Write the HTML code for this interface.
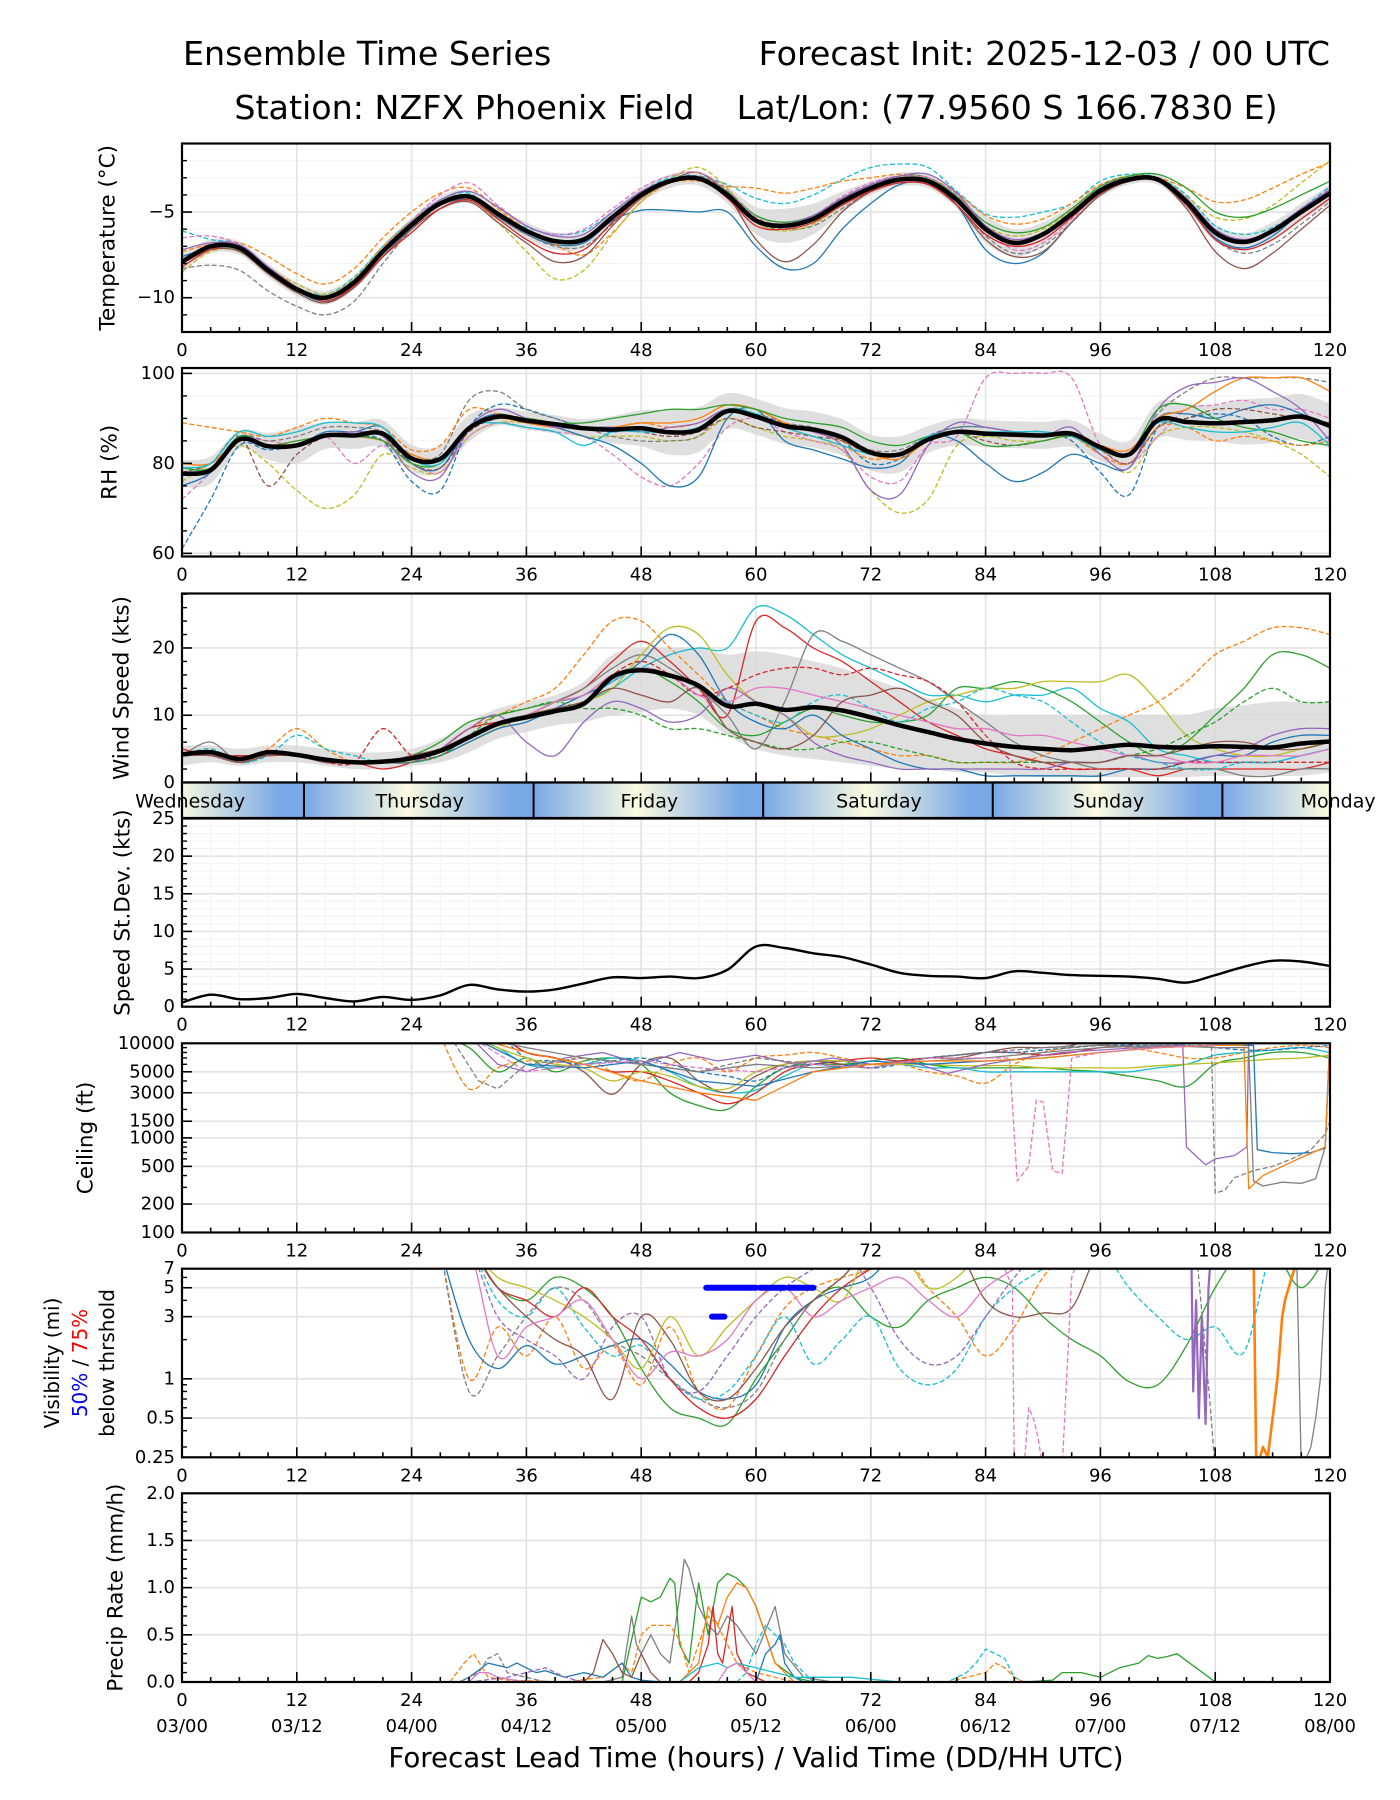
<!DOCTYPE html>
<html><head><meta charset="utf-8">
<style>
html,body{margin:0;padding:0;background:#fff;}
svg{display:block;font-family:"DejaVu Sans","Liberation Sans",sans-serif;}
</style></head>
<body>
<svg id="fig" width="1400" height="1800" viewBox="0 0 1400 1800" xmlns="http://www.w3.org/2000/svg">
<rect x="0" y="0" width="1400" height="1800" fill="#fff"/>
<defs>
<linearGradient id="dayGrad" x1="0" y1="0" x2="1" y2="0">
<stop offset="0" stop-color="#79a8e6"/>
<stop offset="0.45" stop-color="#fbfbe0"/>
<stop offset="0.9" stop-color="#79a8e6"/>
<stop offset="1" stop-color="#79a8e6"/>
</linearGradient>
</defs>
<text x="183" y="65" font-size="33.3" fill="#000">Ensemble Time Series</text>
<text x="1330" y="65" font-size="33.3" text-anchor="end" fill="#000">Forecast Init: 2025-12-03 / 00 UTC</text>
<text x="756" y="119" font-size="33.3" text-anchor="middle" fill="#000" xml:space="preserve">Station: NZFX Phoenix Field    Lat/Lon: (77.9560 S 166.7830 E)</text>
<text x="756" y="1767" font-size="27.7" text-anchor="middle">Forecast Lead Time (hours) / Valid Time (DD/HH UTC)</text>
<g font-size="20" text-anchor="middle">
<text transform="translate(52,1363) rotate(-90)" dominant-baseline="central">Visibility (mi)</text>
<text transform="translate(80,1363) rotate(-90)" dominant-baseline="central"><tspan fill="#0000ff">50%</tspan> / <tspan fill="#ff0000">75%</tspan></text>
<text transform="translate(107,1363) rotate(-90)" dominant-baseline="central">below thrshold</text>
</g>
</svg>
<script>
// ---------------- DATA ----------------
const hours3 = [0,3,6,9,12,15,18,21,24,27,30,33,36,39,42,45,48,51,54,57,60,63,66,69,72,75,78,81,84,87,90,93,96,99,102,105,108,111,114,117,120];
const tempMean = [-7.9,-7.0,-7.1,-8.4,-9.5,-10.0,-9.1,-7.3,-5.75,-4.5,-4.1,-5.1,-6.1,-6.7,-6.6,-5.3,-4.0,-3.2,-3.05,-4.0,-5.5,-5.8,-5.4,-4.4,-3.6,-3.1,-3.2,-4.3,-6.0,-6.8,-6.3,-5.1,-3.75,-3.1,-3.1,-4.4,-6.2,-6.75,-6.1,-5.0,-3.9];
const tempSpread = [0.5,0.4,0.4,0.4,0.4,0.4,0.4,0.4,0.4,0.4,0.4,0.4,0.5,0.5,0.5,0.4,0.4,0.4,0.4,0.5,0.8,1.0,0.9,0.6,0.4,0.4,0.4,0.5,0.8,0.8,0.7,0.5,0.4,0.3,0.3,0.4,0.5,0.5,0.5,0.5,0.5];
const tempBlue = [-7.6,-7.1,-7.2,-8.5,-9.6,-10.2,-9.4,-7.6,-5.9,-4.6,-4.3,-5.3,-6.3,-6.9,-6.8,-5.5,-4.9,-4.9,-5.0,-5.0,-7.0,-8.3,-8.0,-6.0,-4.5,-3.4,-3.3,-4.6,-7.2,-8.0,-7.4,-5.6,-4.0,-3.2,-3.1,-4.6,-6.5,-7.1,-6.4,-5.0,-3.9];
const tempCyanDash = [-6.1,-6.6,-6.9,-8.2,-9.4,-9.8,-8.8,-7.0,-5.5,-4.3,-3.9,-5.2,-5.9,-6.3,-6.1,-5.0,-3.8,-3.0,-2.9,-3.4,-4.2,-4.5,-4.0,-3.1,-2.4,-2.2,-2.4,-3.8,-5.1,-5.3,-5.0,-4.5,-3.2,-2.8,-3.0,-4.0,-5.8,-6.3,-5.9,-4.8,-3.5];
const tempOrangeDash = [-7.3,-6.9,-6.8,-7.6,-8.6,-9.2,-8.3,-6.5,-5.0,-3.9,-3.6,-4.8,-6.0,-6.9,-7.5,-6.2,-4.4,-3.3,-3.2,-3.5,-3.6,-3.9,-3.6,-3.2,-3.0,-2.8,-3.0,-3.9,-5.2,-5.7,-5.4,-4.5,-3.4,-2.9,-3.0,-3.6,-4.4,-4.3,-3.6,-2.8,-2.1];
const tempGrayDash = [-8.3,-8.1,-8.4,-9.6,-10.5,-11.0,-10.2,-8.0,-6.0,-4.6,-4.2,-5.3,-6.3,-7.0,-7.0,-5.7,-4.2,-3.3,-2.9,-3.8,-5.6,-6.0,-5.8,-4.8,-3.8,-3.3,-3.4,-4.6,-6.4,-7.4,-7.0,-5.6,-4.0,-3.2,-3.1,-4.6,-6.6,-7.4,-6.9,-5.7,-4.4];
const tempOliveDash = [-8.5,-7.3,-7.2,-8.3,-9.2,-9.8,-8.9,-7.0,-5.5,-4.4,-4.2,-5.6,-7.3,-8.9,-8.4,-6.3,-4.4,-3.1,-2.4,-3.6,-5.6,-6.1,-5.7,-4.6,-3.6,-3.1,-3.1,-4.2,-5.8,-6.4,-6.0,-4.9,-3.6,-3.0,-3.0,-4.1,-5.3,-5.4,-4.6,-3.3,-2.0];
const tempBrown = [-8.0,-7.2,-7.3,-8.6,-9.7,-10.3,-9.4,-7.6,-6.0,-4.8,-4.4,-5.6,-6.8,-7.9,-7.6,-5.8,-4.2,-3.2,-2.7,-4.0,-6.6,-7.9,-6.9,-5.0,-3.8,-3.2,-3.3,-4.6,-6.6,-7.6,-7.3,-5.6,-4.0,-3.2,-3.2,-4.8,-7.3,-8.3,-7.4,-6.0,-4.6];
const tempGreen = [-7.8,-7.0,-7.1,-8.3,-9.5,-10.1,-9.2,-7.2,-5.7,-4.4,-4.0,-5.0,-6.0,-6.6,-6.5,-5.2,-3.9,-3.1,-3.0,-3.8,-5.2,-5.6,-5.2,-4.2,-3.4,-2.9,-3.0,-4.1,-5.6,-6.2,-5.9,-4.8,-3.5,-2.9,-2.8,-3.6,-5.0,-5.3,-4.8,-4.0,-3.2];
const tempPinkDash = [-6.5,-6.4,-6.9,-8.2,-9.5,-10.0,-9.0,-7.1,-5.5,-4.0,-3.3,-4.6,-5.8,-6.3,-6.0,-4.8,-3.6,-2.9,-2.7,-3.7,-5.3,-5.7,-5.2,-4.1,-3.3,-2.9,-3.0,-4.0,-5.9,-7.2,-6.8,-5.4,-3.8,-3.1,-3.1,-4.3,-6.1,-6.8,-6.2,-4.9,-3.6];
const tempRed = [-8.2,-7.2,-7.0,-8.2,-9.4,-10.2,-9.3,-7.6,-6.2,-4.8,-4.3,-5.4,-6.6,-7.4,-7.2,-5.6,-4.1,-3.2,-3.0,-4.2,-5.8,-6.0,-5.6,-4.6,-3.8,-3.3,-3.4,-4.6,-6.3,-7.0,-6.6,-5.3,-3.9,-3.2,-3.2,-4.6,-6.6,-7.2,-6.6,-5.4,-4.2];
const tempPurple = [-7.2,-6.8,-6.9,-8.2,-9.4,-9.9,-9.0,-7.2,-5.6,-4.3,-3.8,-4.7,-5.8,-6.4,-6.3,-5.0,-3.8,-3.1,-3.0,-3.9,-5.4,-5.7,-5.2,-4.2,-3.4,-2.9,-2.8,-3.9,-5.8,-6.6,-6.2,-5.0,-3.6,-3.0,-3.0,-4.2,-6.0,-6.6,-6.0,-4.8,-3.7];

const rhMean = [77.7,78.5,85.3,83.8,84,86.2,86.2,86.6,81.1,81,87.8,90.4,89.5,88.7,87.8,87.5,87.8,86.9,87.5,91.6,90.4,88.3,87.5,85.8,82.4,82,85.3,87,86.6,86.4,86.2,86.6,83.6,82,89.6,89.2,88.9,89.2,89.6,90.4,88.3];
const rhSpread = [3,3,2,3,4,3,3,3,3,3,3,2,2,2,2,3,4,5,5,4,4,4,4,4,4,4,3,3,3,3,3,3,3,3,4,4,4,5,5,5,5];
const rhOliveDash = [76,80,84,80,74,70,73,82,79,78,86,89,89,88,86,86,86,85,86,90,88,86,85,83,74,69,72,84,86,85,85,86,82,78,86,88,88,87,85,82,77];
const rhPinkDash = [72,78,85,85,84,86,80,84,80,78,86,89,88,87,86,82,77,75,80,88,90,87,85,83,77,76,84,86,99,100,100,99,84,80,86,92,93,94,92,92,90];
const rhBlue = [75,78,86,84,84,87,87,88,80,79,88,91,89,88,86,84,80,75,77,90,92,85,83,81,79,80,86,85,80,76,78,82,80,79,90,91,90,92,93,91,88];
const rhBlueDash = [61,72,84,83,84,86,86,85,76,74,88,93,92,90,88,87,88,87,88,92,91,89,87,85,80,81,86,88,88,87,87,85,78,73,88,90,91,90,86,84,86];
const rhGrayDash = [78,79,86,85,86,88,88,87,82,82,94,96,92,90,88,86,85,85,86,92,91,89,88,86,83,83,86,88,88,87,87,86,83,82,91,96,99,99,99,99,98];
const rhOrange = [80,80,85,84,85,86,86,85,82,81,88,90,89,88,88,88,89,89,90,93,92,89,87,85,82,81,85,87,87,86,86,86,84,83,90,92,96,99,99,99,96];
const rhOrangeDash = [89,88,87,86,88,90,89,88,83,84,92,91,90,89,88,88,89,88,89,92,91,88,86,84,81,82,85,87,87,86,86,86,82,80,88,88,85,86,85,84,85];
const rhBrownDash = [78,80,86,75,82,86,87,86,80,79,87,90,90,89,88,88,87,86,87,90,88,87,86,85,82,82,86,87,85,84,85,86,83,80,88,90,92,92,91,90,89];
const rhPurple = [78,79,85,84,84,86,87,86,78,77,88,92,90,88,88,88,87,88,89,92,90,88,87,84,74,73,84,89,88,87,86,88,82,79,92,97,98,99,96,92,85];
const rhGreen = [79,79,86,84,85,86,86,85,80,80,88,90,90,89,89,90,91,92,92,93,92,90,89,88,85,84,86,87,84,84,85,86,83,82,92,93,90,88,87,85,84];
const rhCyan = [79,80,87,86,87,89,89,88,81,80,88,89,88,87,84,87,87,87,88,92,91,88,86,84,82,82,86,87,87,87,87,86,83,82,89,88,87,87,88,89,84];

const windMean = [4.2,4.5,3.5,4.5,4.1,3.4,3.0,3.1,3.6,4.7,6.7,8.7,9.7,10.6,11.7,15.7,16.7,15.9,14.4,11.4,11.7,10.8,11.2,10.7,9.7,8.5,7.5,6.5,5.8,5.3,5.0,4.8,5.2,5.6,5.3,5.2,5.4,5.3,5.2,5.8,6.1];
const windBandHigh = [5.5,5.5,5,5.5,5.5,5,4.5,4.5,5,6.5,9,11,12,13,15,19,20,20,20,19,19.5,19,18,17,15.5,14,12.5,11,10,10,10,10,10,10,10,10,11,11.5,12,12,12];
const windBandLow = [2.5,3,2.5,3,3,2.5,2,2,2.5,3,4.5,6.5,7.5,8.5,9,10,10.5,11,10,7,5,4,3.5,3,2.5,2,2,1.5,1.5,1,0.8,0.8,0.8,0.8,0.8,0.8,1,1,1,1,1.5];
const windOrangeDash = [4,5,3,5,8,5,3,3,4,5,8,10,12,14,19,24,24,20,16,12,10,8,7,6,5,4,4,3,3,3,4,6,8,10,12,15,19,21,23,23,22];
const windCyan = [4,4,3,4,4,3,3,3,4,5,7,9,10,11,12,14,17,19,20,20,26,25,22,19,17,15,13,13,12,13,13,14,11,9,5,4,3,3,3,4,5];
const windRed = [5,4,4,4,4,3,3,2,3,5,8,9,10,12,14,18,21,18,14,10,24,23,20,18,15,12,9,7,5,4,3,2,2,2,1,2,2,2,2,2,3];
const windGray = [4,6,3,4,4,3,3,3,4,5,7,9,10,12,14,17,19,17,14,10,5,12,22,21,19,17,15,12,9,6,4,3,2,2,2,2,2,1,1,2,2];
const windGreen = [4,4,3,4,4,3,3,3,4,6,9,10,11,12,13,16,17,15,12,8,7,9,11,10,9,9,10,14,14,15,14,12,9,6,4,6,10,14,19,19,17];
const windOlive = [4,4,3,4,4,3,3,3,3,4,6,8,10,11,12,14,19,23,22,16,12,10,7,7,8,10,12,13,14,14,15,15,15,16,12,7,5,4,4,5,6];
const windBlue = [4,4,3,4,4,3,3,3,3,4,6,8,9,11,13,15,18,22,19,12,9,8,10,7,5,3,2,2,1,1,1,1,1,2,2,3,4,4,6,7,7];
const windPurple = [4,4,3,4,4,3,3,3,3,5,8,10,6,4,9,12,11,9,10,14,12,10,6,4,3,2,2,2,2,2,2,3,3,4,3,3,4,5,7,8,8];
const windRedDash = [5,4,4,4,4,3,3,8,4,4,7,9,10,11,12,16,18,16,13,14,16,17,17,16,17,16,15,12,7,3,2,2,2,2,2,3,3,3,3,3,3];
const windCyanDash = [4,5,3,4,7,5,4,3,4,4,7,9,10,11,12,15,17,16,14,12,10,9,12,13,11,9,11,12,14,13,12,9,6,4,3,2,2,3,3,4,5];
const windGreenDash = [4,4,3,4,4,3,3,3,3,4,7,10,11,12,11,11,10,8,8,7,6,5,5,6,6,5,4,3,3,3,3,3,3,4,5,7,9,12,14,12,12];
const windPink = [4,4,3,4,4,3,3,3,4,5,7,9,10,12,13,16,17,16,13,12,14,14,13,12,11,10,9,8,8,7,7,6,5,4,4,3,3,4,4,4,5];
const windBrown = [4,4,3,4,4,3,3,3,4,5,7,9,10,11,12,14,13,12,14,8,6,5,7,12,13,14,12,10,6,4,3,3,3,4,4,5,6,6,5,5,6];

const stdDev = [0.55,1.6,1.0,1.15,1.7,1.15,0.7,1.3,0.9,1.5,2.9,2.3,2.0,2.3,3.1,3.9,3.8,4.0,3.8,4.9,8.0,7.8,7.1,6.6,5.6,4.5,4.1,4.0,3.8,4.7,4.5,4.2,4.1,4.0,3.7,3.2,4.2,5.3,6.1,6.0,5.4];

const dayNames = ["Wednesday","Thursday","Friday","Saturday","Sunday","Monday"];
const dayStarts = [-11.25,12.75,36.75,60.75,84.75,108.75];

const hoursLate = [27,30,33,36,39,42,45,48,51,54,57,60,63,66,69,72,75,78,81,84,87,90,93,96,99,102,105,108,111,114,117,120];
const ceilOrangeDash = [12000,3300,5500,6500,6200,7000,5000,4000,6000,7000,5000,7000,7500,8000,7000,6000,6000,5000,4500,3800,6000,8000,9000,9500,9000,8000,7000,7000,8000,9000,9500,9000];
const ceilGreen = [12000,9000,5000,7000,5000,6500,7000,6000,3000,2200,2000,3500,5500,6000,6000,6500,7000,6000,5500,5500,5500,5500,5200,5000,4500,4000,3500,6000,7000,8000,8000,7000];
const ceilCyan = [12000,12000,9000,6000,5500,6000,7000,6500,5000,3500,3000,3200,4500,6000,5500,6000,6000,5500,5500,5000,5000,5000,5000,5000,5000,5500,6000,7500,8000,8500,9000,8000];
const ceilBrown = [12000,12000,12000,8000,7000,5000,2900,6000,7000,4000,3000,4500,6000,6500,6000,5500,6500,7000,7000,8000,9000,9000,9500,12000,12000,12000,12000,12000,12000,12000,12000,12000];
const ceilRed = [12000,12000,12000,8000,7000,6000,5000,5000,4000,3000,2300,3000,5000,6000,6500,7000,6500,7000,7500,8000,8000,7500,8000,9000,9500,12000,12000,12000,12000,12000,12000,12000];
const ceilBlueDash = [12000,12000,12000,7000,6500,6000,6500,7000,6000,5000,4500,4000,5500,6000,6500,5500,6000,7000,7500,8000,8000,8500,9000,9500,9500,9500,9500,9000,8500,8500,9000,9500];
const ceilOlive = [12000,12000,9000,7000,6000,5500,4000,5000,4500,3500,3300,5000,6000,6500,6500,6000,6000,6000,5800,5800,5800,5500,5500,5500,5500,5800,6000,6200,6500,6800,7000,7500];
const ceilPurpleHours = [27,30,33,36,40,44,48,52,56,60,64,68,72,76,80,84,88,92,96,100,104,104.6,105,107,108,110,111.3,111.5];
const ceilPurple = [12000,12000,6000,5000,7000,8000,6000,8000,6500,7500,6000,7000,6000,6500,4800,6000,7000,8000,8500,9000,9500,9500,800,520,600,650,800,12000];
const ceilGrayDashHours = [28,31,33,36,42,48,54,60,66,72,78,84,90,96,102,106,107.6,108,109,110,112,114,116,118,119.5,120];
const ceilGrayDash = [12000,4000,3300,6000,7000,6000,5000,7000,6000,5500,7000,8000,9000,9500,9000,9500,9500,260,280,380,450,500,600,750,1100,1500];
const ceilGrayHours = [30,36,42,48,54,60,66,72,78,84,90,96,102,108,111.5,112,113,115,117,118.5,119.5,120];
const ceilGray = [12000,9000,7000,6000,5000,6000,5500,6000,6500,7000,8000,9000,9500,9000,9000,350,310,340,330,370,800,12000];
const ceilBlueHours = [30,36,42,48,54,60,66,72,78,84,90,96,102,108,112,112.4,114,116,118,119.5,120];
const ceilBlue = [12000,6000,5500,6500,4000,3500,5000,6500,6000,6500,7000,8000,9000,9500,9500,750,700,680,700,780,12000];
const ceilOrangeHours = [30,36,42,48,54,60,66,72,78,84,90,96,102,108,111,111.5,113,115,117,119.5,120];
const ceilOrange = [12000,8000,6000,4000,3000,2500,5000,6000,6500,6500,7000,8000,9000,9500,9500,290,400,500,620,800,12000];
const ceilPinkHours = [30,36,42,48,54,60,66,72,78,84,86.5,87.3,88.5,89.3,90,91,92,93,96,102,108,114,120];
const ceilPink = [12000,5000,6000,6500,5500,5000,6000,5500,7000,7000,7000,350,500,2500,2400,450,420,7000,8000,9000,9500,12000,12000];

const visOrangeDash = [10,1.0,2.5,1.5,3.0,1.2,1.8,0.9,2.5,0.8,0.6,1.5,3.5,5,6,7,10,5,3,1.5,2.5,6,10,10,10,10,10,10,10,10,10,10];
const visBlue = [10,2.0,1.2,1.8,1.3,1.5,1.8,2.0,1.3,0.8,0.7,0.9,2.5,4,5,6,10,10,10,10,10,10,10,10,10,10,10,10,10,10,10,10];
const visGreen = [10,10,5,4,6,5,3,1.2,0.6,0.5,0.45,1.0,2.0,4,5,3,2.5,4,5,6,5,3,2,1.5,0.95,0.9,1.8,5,10,10,5,10];
const visGrayDash = [10,0.8,1.5,3,5,4,2.0,1.5,1.0,0.7,0.6,0.8,2.0,4,6,10,10,10,10,10,10,10,10,10,10,10,10,10,10,10,10,10];
const visCyanDash = [10,10,4,3,5,2.5,1.5,1.8,1.0,0.7,0.8,1.5,3,1.3,2,3,1.2,0.9,1.2,3,5,7,10,10,5,3,2,2.5,1.6,10,10,10];
const visPurpleDash = [10,10,3,2,1.5,1.0,2.5,3,1.0,0.8,1.5,3,5,7,10,5,2,1.3,1.5,3,6,10,10,10,10,10,10,10,10,10,10,10];
const visRed = [10,10,5,4,3,5,3,2.0,1.0,0.6,0.5,0.7,1.5,3,5,7,10,10,10,10,10,10,10,10,10,10,10,10,10,10,10,10];
const visBrown = [10,10,5,3,2,1.5,0.7,3,2,0.8,0.7,1.2,2.5,4,6,10,10,10,10,4,3.0,3.2,3.5,10,10,10,10,10,10,10,10,10];
const visOlive = [10,10,6,5,4,3,2,1.2,3,1.5,2.5,4,6,5,4,10,10,5,6,10,10,10,10,10,10,10,10,10,10,10,10,10];
const visPink = [10,10,1.5,2.5,3,4,2,1.0,1.6,1.5,2,4,5,3,4,5,6,4,3,5,7,10,10,10,10,10,10,10,10,10,10,10];
const visPurpleHours = [104,105.5,105.7,106,106.3,106.6,107,107.3,107.6,108];
const visPurple = [10,10,0.8,4,0.5,3,0.45,5,10,10];
const visOrangeHours = [111,112,112.3,113,113.5,114,114.5,115,115.3,116,117];
const visOrange = [10,10,0.2,0.3,0.25,0.5,1,3,4,6,10];
const visGrayHours = [115,116.5,117,118,118.5,119,119.5,120];
const visGray = [10,10,0.2,0.3,0.5,1,5,10];
const visPinkHours = [86,86.8,87,88,88.5,89,89.5,90,91,92,93,94];
const visPinkSpike = [7,5,0.2,0.2,0.6,0.5,0.35,0.2,0.2,0.2,6,10];
const visGrayDashHours = [104,106,107.5,108,110];
const visGrayDashSpike = [10,10,0.6,0.2,0.2];
const thr50Start = [54.8,60.4,61.4,63.4];
const thr50End = [60.0,61.2,63.0,66.0];
const thr75Start = [55.4];
const thr75End = [56.7];

const prGrayHours = [44,46,47,47.5,48,49,50,51,52,52.5,53,53.5,54,55,56,57,58,60,62,63,65,68];
const prGray = [0,0.05,0.7,0.4,0.3,0.5,0.3,0.2,0.9,1.3,1.2,1.0,0.8,0.6,0.5,0.7,0.6,0.3,0.8,0.3,0.05,0];
const prGreenHours = [46,48,49,50,51,51.5,52,53,54,55,56,57,58,59,60,61,62,64,66];
const prGreen = [0,0.9,0.85,0.9,1.1,1.05,0.4,0.2,1.05,0.5,1.05,1.15,1.1,1.0,0.8,0.5,0.2,0.05,0];
const prGreenLateHours = [88,91,92,94,96,98,100,101,102,103,104,106,108];
const prGreenLate = [0,0.02,0.1,0.1,0.05,0.15,0.2,0.28,0.25,0.27,0.3,0.15,0];
const prOrangeHours = [52,54,55,56,57,58,59,60,61,62,63,64];
const prOrange = [0,0.2,0.8,0.6,0.9,1.05,1.0,0.8,0.5,0.2,0.1,0];
const prRedHours = [53,54,55,55.5,56,56.5,57,57.5,58,59,60,61];
const prRed = [0,0.1,0.4,0.8,0.3,0.2,0.5,0.8,0.3,0.1,0.05,0];
const prOrangeDashHours = [28,29.5,30.5,32,34,40,44,46,47,48,49,50,51,52,53,55,56,57,58,60,62,64];
const prOrangeDash = [0,0.2,0.3,0.05,0.02,0,0.05,0.2,0.1,0.5,0.6,0.6,0.6,0.45,0.1,0.7,0.6,0.4,0.2,0.1,0.05,0];
const prCyanDashHours = [58,59,60,61,62,63,64,66,80,82,83,84,85,86,87,88];
const prCyanDash = [0,0.1,0.4,0.6,0.5,0.4,0.2,0,0,0.1,0.2,0.35,0.3,0.25,0.05,0];
const prBlueHours = [29,30,32,34,35,36,37,38,40,42,44,46,47,48,50,52,60,61,62,62.5,63,64,65];
const prBlue = [0,0.05,0.2,0.15,0.2,0.15,0.1,0.12,0.05,0.1,0.05,0.2,0.05,0.02,0,0,0,0.3,0.4,0.5,0.2,0.05,0];
const prGrayDashHours = [29,31,32,33,34,36,38];
const prGrayDash = [0,0.1,0.25,0.3,0.1,0.05,0];
const prBrownHours = [42,43,44,45,46,47,48,49,50];
const prBrown = [0,0.1,0.45,0.3,0.1,0.05,0.3,0.1,0];
const prPurpleDashHours = [30,34,36,38,40,42];
const prPurpleDash = [0,0.05,0.1,0.15,0.05,0];
const prCyanHours = [52,54,56,57,58,60,62,64,66,70,72,75];
const prCyan = [0,0.15,0.2,0.15,0.2,0.15,0.1,0.05,0.05,0.05,0.03,0];
const prOrangeDash2Hours = [80,82,84,85,86,87,88];
const prOrangeDash2 = [0,0.05,0.1,0.2,0.15,0.05,0];
const prPinkHours = [30,31,32,33,36,56,57,58,59,60];
const prPink = [0,0.1,0.1,0.05,0,0,0.15,0.2,0.1,0];
const prBaseHours = [26,120];
const prBase = [0,0];

// ---------------- HELPERS ----------------
const NS = "http://www.w3.org/2000/svg";
const svg = document.getElementById('fig');
const L = 182, R = 1330;
const C = {blue:"#1f77b4",orange:"#ff7f0e",green:"#2ca02c",red:"#d62728",purple:"#9467bd",brown:"#8c564b",pink:"#e377c2",gray:"#7f7f7f",olive:"#bcbd22",cyan:"#17becf"};
function X(h){ return L + (R - L) * h / 120; }
function mk(tag, attrs, parent){
  const e = document.createElementNS(NS, tag);
  for (const k in attrs) e.setAttribute(k, attrs[k]);
  (parent || svg).appendChild(e);
  return e;
}
function yScale(top, bot, lo, hi, log){
  if (log) { const a = Math.log10(lo), b = Math.log10(hi); return v => bot - (Math.log10(Math.max(v,1e-6)) - a) / (b - a) * (bot - top); }
  return v => bot - (v - lo) / (hi - lo) * (bot - top);
}
function smoothPath(pts){
  let d = "M" + pts[0][0].toFixed(1) + "," + pts[0][1].toFixed(1);
  for (let i = 0; i < pts.length - 1; i++){
    const p0 = pts[Math.max(0,i-1)], p1 = pts[i], p2 = pts[i+1], p3 = pts[Math.min(pts.length-1,i+2)];
    const c1x = p1[0] + (p2[0]-p0[0])/6, c1y = p1[1] + (p2[1]-p0[1])/6;
    const c2x = p2[0] - (p3[0]-p1[0])/6, c2y = p2[1] - (p3[1]-p1[1])/6;
    d += "C" + c1x.toFixed(1) + "," + c1y.toFixed(1) + " " + c2x.toFixed(1) + "," + c2y.toFixed(1) + " " + p2[0].toFixed(1) + "," + p2[1].toFixed(1);
  }
  return d;
}
function linePath(pts){ return "M" + pts.map(p => p[0].toFixed(1) + "," + p[1].toFixed(1)).join("L"); }
let clipN = 0;
function makePanel(name, top, bot){
  const id = "clip" + (clipN++);
  const cp = mk('clipPath', {id:id});
  mk('rect', {x:L, y:top, width:R-L, height:bot-top}, cp);
  const g = mk('g', {});
  
  
  const plot = mk('g', {'clip-path':'url(#'+id+')'}, g);
  return {g:g, plot:plot, top:top, bot:bot};
}
function drawGridV(P, minor){
  for (let h = 0; h <= 120; h += 3){
    const major = h % 12 === 0;
    if (!major && !minor) continue;
    const ln = mk('line', {x1:X(h), x2:X(h), y1:P.top, y2:P.bot, stroke: major ? "#e2e2e2" : "#f3f3f3", 'stroke-width': major ? 1.6 : 1}, P.plot);
    
    
  }
}
function drawGridH(P, y, vals, color, w){
  vals.forEach(v => {
    const ln = mk('line', {x1:L, x2:R, y1:y(v), y2:y(v), stroke:color, 'stroke-width':w}, P.plot);
    
    
  });
}
function drawFrame(P, xlabels){
  const fr = mk('rect', {x:L, y:P.top, width:R-L, height:P.bot-P.top, fill:"none", stroke:"#000", 'stroke-width':2.2}, P.g);
  
  
  for (let h = 0; h <= 120; h += 3){
    const major = h % 12 === 0;
    const t = mk('line', {x1:X(h), x2:X(h), y1:P.bot, y2:P.bot - (major ? 10 : 5), stroke:"#000", 'stroke-width':1.6}, P.g);
    
    
    if (major && xlabels){
      const tx = mk('text', {x:X(h), y:P.bot + 24, 'font-size':18, 'text-anchor':'middle'}, P.g);
      tx.textContent = String(h);
      
      
    }
  }
}
function yTicks(P, y, major, labels, minor){
  major.forEach((v, i) => {
    const t = mk('line', {x1:L, x2:L+10, y1:y(v), y2:y(v), stroke:"#000", 'stroke-width':1.6}, P.g);
    
    
    const tx = mk('text', {x:L-7, y:y(v), 'font-size':18, 'text-anchor':'end', 'dominant-baseline':'central'}, P.g);
    tx.textContent = labels[i];
    
    
  });
  (minor || []).forEach(v => {
    const t = mk('line', {x1:L, x2:L+5, y1:y(v), y2:y(v), stroke:"#000", 'stroke-width':1.4}, P.g);
    
    
  });
}
function yLabel(P, x, text){
  const cy = (P.top + P.bot) / 2;
  const tx = mk('text', {transform:'translate('+x+','+cy+') rotate(-90)', 'font-size':21.5, 'text-anchor':'middle', 'dominant-baseline':'central'}, P.g);
  tx.textContent = text;
  
  
}
function series(P, y, hrs, vals, color, dashed, smooth, width, name){
  const pts = hrs.map((h, i) => [X(h), y(vals[i])]);
  const p = mk('path', {d: smooth ? smoothPath(pts) : linePath(pts), fill:"none", stroke:color, 'stroke-width':width || 1.3, 'stroke-linejoin':'round'}, P.plot);
  if (dashed) p.setAttribute('stroke-dasharray', '5,2.5');
  
  
  return p;
}
function band(P, y, hrs, lo, hi, name){
  const up = hrs.map((h, i) => [X(h), y(hi[i])]);
  const dn = hrs.map((h, i) => [X(h), y(lo[i])]).reverse();
  const dd = smoothPath(dn);
  let d = smoothPath(up) + "L" + dn[0][0].toFixed(1) + "," + dn[0][1].toFixed(1) + dd.slice(dd.indexOf("C")) + "Z";
  const p = mk('path', {d:d, fill:"#d9d9d9", 'fill-opacity':0.85, stroke:"none"}, P.plot);
  
  
}

// ---------------- TEMPERATURE ----------------
(function(){
  const P = makePanel('temperature-panel', 143.5, 332);
  const y = yScale(P.top, P.bot, -12, -1, false);
  drawGridH(P, y, [-12,-11,-9,-8,-7,-6,-4,-3,-2,-1], "#f3f3f3", 1);
  drawGridH(P, y, [-10,-5], "#e2e2e2", 1.6);
  drawGridV(P, false);
  band(P, y, hours3, tempMean.map((v,i)=>v-tempSpread[i]), tempMean.map((v,i)=>v+tempSpread[i]), 'temperature-spread-band');
  [[tempBlue,C.blue,0],[tempCyanDash,C.cyan,1],[tempOrangeDash,C.orange,1],[tempGrayDash,C.gray,1],[tempOliveDash,C.olive,1],[tempBrown,C.brown,0],[tempGreen,C.green,0],[tempPinkDash,C.pink,1],[tempRed,C.red,0],[tempPurple,C.purple,0]]
    .forEach(m => series(P, y, hours3, m[0], m[1], m[2], true, 1.3, 'temperature-member'));
  series(P, y, hours3, tempMean, "#000", false, true, 4.5, 'temperature-mean');
  drawFrame(P, true);
  yTicks(P, y, [-10,-5], ["\u221210","\u22125"], [-12,-11,-9,-8,-7,-6,-4,-3,-2,-1]);
  yLabel(P, 108, "Temperature (\u00b0C)");
})();

// ---------------- RH ----------------
(function(){
  const P = makePanel('rh-panel', 368, 556.5);
  const y = yScale(P.top, P.bot, 59.3, 101.2, false);
  drawGridH(P, y, [65,70,75,85,90,95], "#f3f3f3", 1);
  drawGridH(P, y, [60,80,100], "#e2e2e2", 1.6);
  drawGridV(P, false);
  band(P, y, hours3, rhMean.map((v,i)=>v-rhSpread[i]), rhMean.map((v,i)=>v+rhSpread[i]), 'rh-spread-band');
  [[rhOliveDash,C.olive,1],[rhPinkDash,C.pink,1],[rhBlue,C.blue,0],[rhBlueDash,C.blue,1],[rhGrayDash,C.gray,1],[rhOrange,C.orange,0],[rhOrangeDash,C.orange,1],[rhBrownDash,C.brown,1],[rhPurple,C.purple,0],[rhGreen,C.green,0],[rhCyan,C.cyan,0]]
    .forEach(m => series(P, y, hours3, m[0], m[1], m[2], true, 1.3, 'rh-member'));
  series(P, y, hours3, rhMean, "#000", false, true, 4.5, 'rh-mean');
  drawFrame(P, true);
  yTicks(P, y, [60,80,100], ["60","80","100"], [65,70,75,85,90,95]);
  yLabel(P, 110, "RH (%)");
})();

// ---------------- WIND ----------------
(function(){
  const P = makePanel('wind-panel', 593.5, 782.5);
  const y = yScale(P.top, P.bot, 0, 28.1, false);
  drawGridH(P, y, [10,20], "#e2e2e2", 1.6);
  drawGridV(P, false);
  band(P, y, hours3, windBandLow, windBandHigh, 'wind-spread-band');
  [[windOrangeDash,C.orange,1],[windCyan,C.cyan,0],[windRed,C.red,0],[windGray,C.gray,0],[windGreen,C.green,0],[windOlive,C.olive,0],[windBlue,C.blue,0],[windPurple,C.purple,0],[windRedDash,C.red,1],[windCyanDash,C.cyan,1],[windGreenDash,C.green,1],[windPink,C.pink,0],[windBrown,C.brown,0]]
    .forEach(m => series(P, y, hours3, m[0], m[1], m[2], true, 1.3, 'wind-member'));
  series(P, y, hours3, windMean, "#000", false, true, 4.5, 'wind-mean');
  drawFrame(P, false);
  yTicks(P, y, [0,10,20], ["0","10","20"], [2,4,6,8,12,14,16,18,22,24,26,28]);
  yLabel(P, 122, "Wind Speed (kts)");
})();

// ---------------- DAY STRIP ----------------
(function(){
  const top = 782.5, bot = 818;
  const cp = mk('clipPath', {id:'clipDay'});
  mk('rect', {x:L, y:top, width:R-L, height:bot-top}, cp);
  const g = mk('g', {});
  
  
  const inner = mk('g', {'clip-path':'url(#clipDay)'}, g);
  dayStarts.forEach((s, i) => {
    const r = mk('rect', {x:X(s), y:top, width:X(s+24)-X(s), height:bot-top, fill:'url(#dayGrad)'}, inner);
    
    
    if (s > 0){
      const ln = mk('line', {x1:X(s), x2:X(s), y1:top, y2:bot, stroke:'#000', 'stroke-width':2}, inner);
      
      
    }
  });
  mk('rect', {x:L, y:top, width:R-L, height:bot-top, fill:'none', stroke:'#000', 'stroke-width':2.2}, g);
  dayStarts.forEach((s, i) => {
    const tx = mk('text', {x:X(s+12.1), y:(top+bot)/2+1, 'font-size':19, 'text-anchor':'middle', 'dominant-baseline':'central'}, g);
    tx.textContent = dayNames[i];
    
    
  });
})();

// ---------------- STD DEV ----------------
(function(){
  const P = makePanel('speed-stddev-panel', 818.5, 1006.7);
  const y = yScale(P.top, P.bot, 0, 25, false);
  const minors = [];
  for (let v = 1; v < 25; v++) if (v % 5) minors.push(v);
  drawGridH(P, y, minors, "#f3f3f3", 1);
  drawGridH(P, y, [5,10,15,20], "#e2e2e2", 1.6);
  drawGridV(P, true);
  series(P, y, hours3, stdDev, "#000", false, true, 2.4, 'speed-stddev-line');
  drawFrame(P, true);
  yTicks(P, y, [0,5,10,15,20,25], ["0","5","10","15","20","25"], minors);
  yLabel(P, 123, "Speed St.Dev. (kts)");
})();

// ---------------- CEILING ----------------
(function(){
  const P = makePanel('ceiling-panel', 1043.3, 1232.5);
  const y = yScale(P.top, P.bot, 100, 10000, true);
  drawGridH(P, y, [200,500,1000,1500,3000,5000], "#e2e2e2", 1.6);
  drawGridV(P, false);
  [[ceilOrangeDash,C.orange,1],[ceilGreen,C.green,0],[ceilCyan,C.cyan,0],[ceilBrown,C.brown,0],[ceilRed,C.red,0],[ceilBlueDash,C.blue,1],[ceilOlive,C.olive,0]]
    .forEach(m => series(P, y, hoursLate, m[0], m[1], m[2], true, 1.3, 'ceiling-member'));
  series(P, y, ceilPurpleHours, ceilPurple, C.purple, false, false, 1.3, 'ceiling-member');
  series(P, y, ceilGrayDashHours, ceilGrayDash, C.gray, true, false, 1.3, 'ceiling-member');
  series(P, y, ceilGrayHours, ceilGray, C.gray, false, false, 1.3, 'ceiling-member');
  series(P, y, ceilBlueHours, ceilBlue, C.blue, false, false, 1.3, 'ceiling-member');
  series(P, y, ceilOrangeHours, ceilOrange, C.orange, false, false, 1.3, 'ceiling-member');
  series(P, y, ceilPinkHours, ceilPink, C.pink, true, false, 1.3, 'ceiling-member');
  drawFrame(P, true);
  yTicks(P, y, [100,200,500,1000,1500,3000,5000,10000], ["100","200","500","1000","1500","3000","5000","10000"],
    [300,400,600,700,800,900,2000,4000,6000,7000,8000,9000]);
  yLabel(P, 86, "Ceiling (ft)");
})();

// ---------------- VISIBILITY ----------------
(function(){
  const P = makePanel('visibility-panel', 1268.7, 1457.3);
  const y = yScale(P.top, P.bot, 0.25, 7, true);
  drawGridH(P, y, [0.5,1,3,5], "#e2e2e2", 1.6);
  drawGridV(P, false);
  [[visOrangeDash,C.orange,1],[visBlue,C.blue,0],[visGreen,C.green,0],[visGrayDash,C.gray,1],[visCyanDash,C.cyan,1],[visPurpleDash,C.purple,1],[visRed,C.red,0],[visBrown,C.brown,0],[visOlive,C.olive,0],[visPink,C.pink,0]]
    .forEach(m => series(P, y, hoursLate, m[0], m[1], m[2], true, 1.3, 'visibility-member'));
  series(P, y, visPurpleHours, visPurple, C.purple, false, false, 2.2, 'visibility-member');
  series(P, y, visOrangeHours, visOrange, C.orange, false, false, 2.6, 'visibility-member');
  series(P, y, visGrayHours, visGray, C.gray, false, false, 1.3, 'visibility-member');
  series(P, y, visPinkHours, visPinkSpike, C.pink, true, false, 1.3, 'visibility-member');
  series(P, y, visGrayDashHours, visGrayDashSpike, C.gray, true, false, 1.3, 'visibility-member');
  thr50Start.forEach((s, i) => {
    const ln = mk('line', {x1:X(s), x2:X(thr50End[i]), y1:y(5), y2:y(5), stroke:'#0000ff', 'stroke-width':6, 'stroke-linecap':'round'}, P.g);
    
    
  });
  thr75Start.forEach((s, i) => {
    const ln = mk('line', {x1:X(s), x2:X(thr75End[i]), y1:y(3), y2:y(3), stroke:'#0000ff', 'stroke-width':6, 'stroke-linecap':'round'}, P.g);
    
    
  });
  drawFrame(P, true);
  yTicks(P, y, [0.25,0.5,1,3,5,7], ["0.25","0.5","1","3","5","7"], [0.3,0.4,0.6,0.7,0.8,0.9,2,4,6]);
})();

// ---------------- PRECIP ----------------
(function(){
  const P = makePanel('precip-panel', 1493.3, 1682);
  const y = yScale(P.top, P.bot, 0, 2, false);
  drawGridH(P, y, [0.5,1.0,1.5], "#e2e2e2", 1.6);
  drawGridV(P, false);
  [[prBaseHours,prBase,C.gray,0],[prGrayHours,prGray,C.gray,0],[prGreenHours,prGreen,C.green,0],[prGreenLateHours,prGreenLate,C.green,0],[prOrangeHours,prOrange,C.orange,0],[prRedHours,prRed,C.red,0],[prOrangeDashHours,prOrangeDash,C.orange,1],[prCyanDashHours,prCyanDash,C.cyan,1],[prBlueHours,prBlue,C.blue,0],[prGrayDashHours,prGrayDash,C.gray,1],[prBrownHours,prBrown,C.brown,0],[prPurpleDashHours,prPurpleDash,C.purple,1],[prCyanHours,prCyan,C.cyan,0],[prOrangeDash2Hours,prOrangeDash2,C.orange,1],[prPinkHours,prPink,C.pink,0]]
    .forEach(m => series(P, y, m[0], m[1], m[2], m[3], false, 1.3, 'precip-member'));
  drawFrame(P, true);
  yTicks(P, y, [0,0.5,1,1.5,2], ["0.0","0.5","1.0","1.5","2.0"], [0.1,0.2,0.3,0.4,0.6,0.7,0.8,0.9,1.1,1.2,1.3,1.4,1.6,1.7,1.8,1.9]);
  yLabel(P, 116, "Precip Rate (mm/h)");
  const dates = ["03/00","03/12","04/00","04/12","05/00","05/12","06/00","06/12","07/00","07/12","08/00"];
  dates.forEach((d, i) => {
    const tx = mk('text', {x:X(i*12), y:P.bot + 50, 'font-size':18, 'text-anchor':'middle'}, P.g);
    tx.textContent = d;
    
    
  });
})();
</script>
</body></html>
